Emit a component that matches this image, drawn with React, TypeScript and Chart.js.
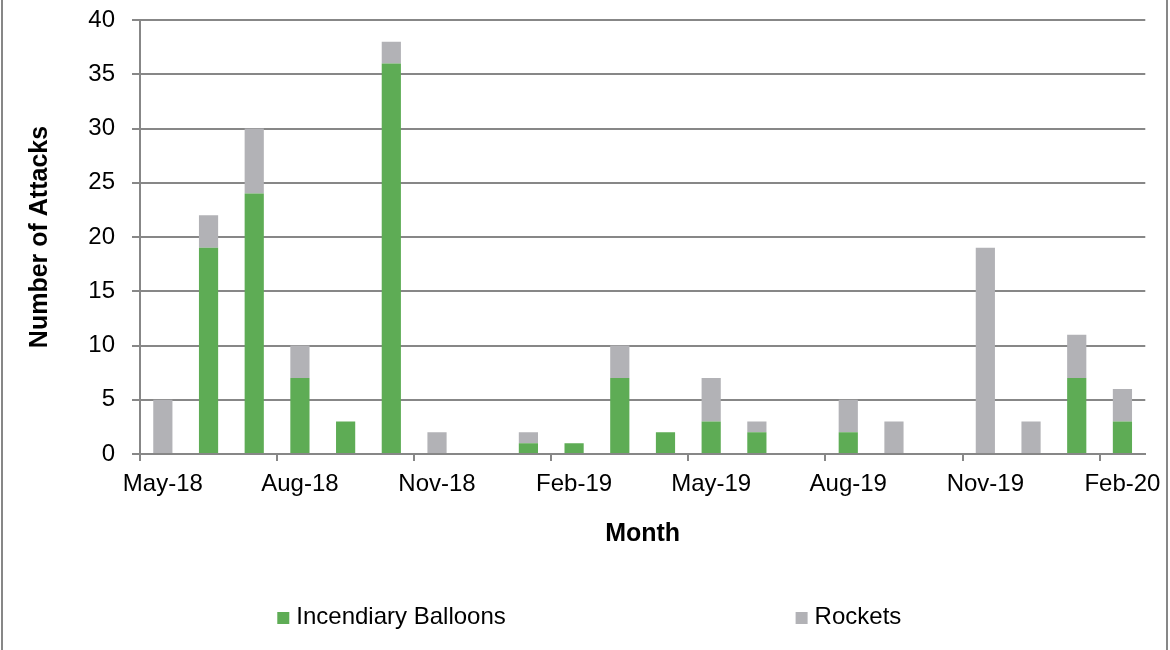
import { useEffect, useRef } from 'react'
import { Chart, registerables, Plugin } from 'chart.js'

Chart.register(...registerables)

// monthly counts, May-18 .. Feb-20
const months = [
  'May-18', 'Jun-18', 'Jul-18', 'Aug-18', 'Sep-18', 'Oct-18', 'Nov-18', 'Dec-18',
  'Jan-19', 'Feb-19', 'Mar-19', 'Apr-19', 'May-19', 'Jun-19', 'Jul-19', 'Aug-19',
  'Sep-19', 'Oct-19', 'Nov-19', 'Dec-19', 'Jan-20', 'Feb-20',
]
const balloons = [0, 19, 24, 7, 3, 36, 0, 0, 1, 1, 7, 2, 3, 2, 0, 2, 0, 0, 0, 0, 7, 3]
const rockets = [5, 3, 6, 3, 0, 2, 2, 0, 1, 0, 3, 0, 4, 1, 0, 3, 3, 0, 19, 3, 4, 3]
const seriesNames = ['Incendiary Balloons', 'Rockets']

const GREEN = '#5eac55'
const GRAY = '#b2b2b6'
const LINE = '#878787'
const FONT = "'Liberation Sans', Arial, sans-serif"

// grey frame on the left and right edge
const frame: Plugin = {
  id: 'frame',
  beforeDraw(chart) {
    const { ctx, width, height } = chart
    ctx.save()
    ctx.strokeStyle = LINE
    ctx.lineWidth = 2
    ctx.beginPath()
    ctx.moveTo(2, 0)
    ctx.lineTo(2, height)
    ctx.moveTo(width - 3, 0)
    ctx.lineTo(width - 3, height)
    ctx.stroke()
    ctx.restore()
  },
}

// excel-style legend with wide gap between the two items
const bottomLegend: Plugin = {
  id: 'bottomLegend',
  afterDraw(chart) {
    const { ctx, width, height } = chart
    const slots = [0.237, 0.68]
    const y = height - 33
    ctx.save()
    ctx.font = `24px ${FONT}`
    ctx.textBaseline = 'middle'
    ctx.textAlign = 'left'
    chart.data.datasets.forEach((ds, i) => {
      const x = width * slots[i]
      ctx.fillStyle = ds.backgroundColor as string
      ctx.fillRect(x, y - 5, 12, 12)
      ctx.fillStyle = '#000'
      ctx.fillText(ds.label ?? '', x + 19, y)
    })
    ctx.restore()
  },
}

const AttacksChart = () => {
  const canvas = useRef<HTMLCanvasElement>(null)

  useEffect(() => {
    if (!canvas.current) return
    const chart = new Chart(canvas.current, {
      type: 'bar',
      data: {
        labels: months,
        datasets: [
          { label: seriesNames[0], data: balloons, backgroundColor: GREEN, borderWidth: 0 },
          { label: seriesNames[1], data: rockets, backgroundColor: GRAY, borderWidth: 0 },
        ],
      },
      options: {
        animation: false,
        responsive: true,
        maintainAspectRatio: false,
        datasets: { bar: { categoryPercentage: 1, barPercentage: 0.42 } },
        layout: { padding: { left: 14, top: 20, right: 24, bottom: 96 } },
        plugins: {
          legend: { display: false },
          tooltip: { enabled: false },
        },
        scales: {
          x: {
            stacked: true,
            offset: true,
            afterFit: (scale) => {
              scale.height = 100
            },
            border: { color: LINE, width: 2 },
            grid: {
              offset: true,
              drawOnChartArea: false,
              tickLength: 7,
              lineWidth: 2,
              tickWidth: 2,
              tickColor: (ctx) => (ctx.index % 3 === 0 ? LINE : 'rgba(0,0,0,0)'),
            },
            ticks: {
              autoSkip: false,
              maxRotation: 0,
              minRotation: 0,
              padding: 9,
              color: '#000',
              font: { family: FONT, size: 24 },
              callback: (_v, i) => (i % 3 === 0 ? months[i] : ''),
            },
            title: {
              display: true,
              text: 'Month',
              color: '#000',
              font: { family: FONT, size: 25, weight: 'bold' },
              padding: { top: 0, bottom: 5 },
            },
          },
          y: {
            stacked: true,
            min: 0,
            max: 40,
            afterFit: (scale) => {
              scale.width = 126
              // tick padding would otherwise push the plot area down
              scale.paddingTop = 0
              scale.paddingBottom = 0
            },
            border: { color: LINE, width: 2 },
            grid: {
              color: LINE,
              lineWidth: 2,
              tickLength: 8,
            },
            ticks: {
              stepSize: 5,
              padding: 17,
              color: '#000',
              font: { family: FONT, size: 24 },
            },
            title: {
              display: true,
              text: 'Number of Attacks',
              color: '#000',
              font: { family: FONT, size: 25, weight: 'bold' },
              padding: { top: 11, bottom: 0 },
            },
          },
        },
      },
      plugins: [frame, bottomLegend],
    })

    return () => {
      chart.destroy()
    }
  }, [])

  return <canvas ref={canvas} />
}

export default function App() {
  return (
    <div style={{ position: 'fixed', left: 0, top: 0, width: 1170, height: 650, background: '#fff' }}>
      <AttacksChart />
    </div>
  )
}
